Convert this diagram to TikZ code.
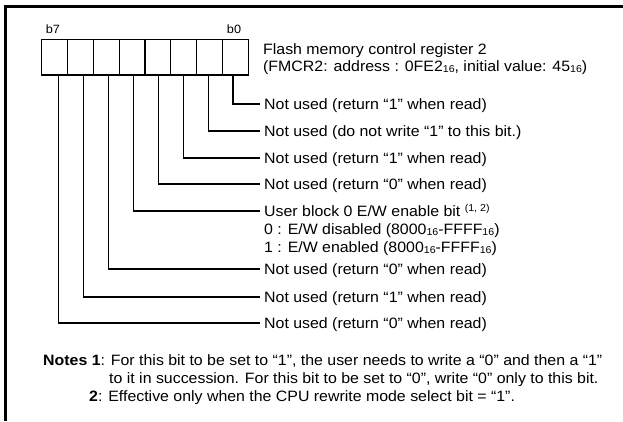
\documentclass[tikz,border=0pt]{standalone}
\usepackage{fontspec}
\setmainfont[FakeStretch=1.06]{Liberation Sans}
\newcommand{\hx}[1]{\raisebox{-1pt}{\fontsize{10}{10}\selectfont #1}}
\newcommand{\supr}[1]{\raisebox{4.5pt}{\fontsize{10}{10}\selectfont #1}}
\begin{document}
\begin{tikzpicture}[x=1pt,y=-1pt,
  font=\fontsize{15}{18}\selectfont,
  reg/.style={draw, line width=1.2pt, minimum width=25.83pt, minimum height=35.7pt, inner sep=0pt},
  lbl/.style={anchor=west, inner xsep=4pt, inner ysep=0pt, text height=10.7pt, text depth=0pt},
  bitlbl/.style={font=\fontsize{12}{12}\selectfont, inner sep=0pt},
  note/.style={inner sep=0pt},
  wire/.style={line width=1.1pt},
  frame/.style={line width=2.7pt}
]
\useasboundingbox (0,0) rectangle (623,421);
\draw[frame] (5.3,421) -- (5.3,6.2) -- (623,6.2);

% register cells
\foreach \i in {0,...,7}
  \node[reg] (c\i) at ({248.3-25.83*(\i+0.5)}, 57.15) {};
\node[bitlbl] (lb7) at (53,29) {b7};
\node[bitlbl] (lb0) at (234,29) {b0};

% title
\node[lbl] (title1) at (259,49) {Flash memory control register 2};
\node[lbl] (title2) at (259,66) {(FMCR2: address : 0FE2\hx{16}, initial value: 45\hx{16})};

% bit descriptions
\node[lbl] (t0) at (260,104) {Not used (return “1” when read)};
\node[lbl] (t1) at (260,131) {Not used (do not write “1” to this bit.)};
\node[lbl] (t2) at (260,158) {Not used (return “1” when read)};
\node[lbl] (t3) at (260,184) {Not used (return “0” when read)};
\node[lbl] (t4) at (260,211) {User block 0 E/W enable bit \supr{(1, 2)}};
\node[lbl] (t4a) at (260,229) {0 : E/W disabled (8000\hx{16}-FFFF\hx{16})};
\node[lbl] (t4b) at (260,247) {1 : E/W enabled (8000\hx{16}-FFFF\hx{16})};
\node[lbl] (t5) at (260,269) {Not used (return “0” when read)};
\node[lbl] (t6) at (260,297) {Not used (return “1” when read)};
\node[lbl] (t7) at (260,323) {Not used (return “0” when read)};

% connectors
\foreach \i in {0,...,7}
  \coordinate (top\i) at ({233-24.95*\i}, 75);
\foreach \i in {0,...,7}
  \draw[wire] (top\i) |- (t\i.west);

% notes
\node[note, anchor=base west] (n1) at (43,365) {\textbf{Notes 1}: For this bit to be set to “1”, the user needs to write a “0” and then a “1”};
\node[note, anchor=base west] (n1b) at (109,383) {to it in succession. For this bit to be set to “0”, write “0” only to this bit.};
\node[note, anchor=base west] (n2) at (89,401) {\textbf{2}: Effective only when the CPU rewrite mode select bit = “1”.};
\end{tikzpicture}
\end{document}
